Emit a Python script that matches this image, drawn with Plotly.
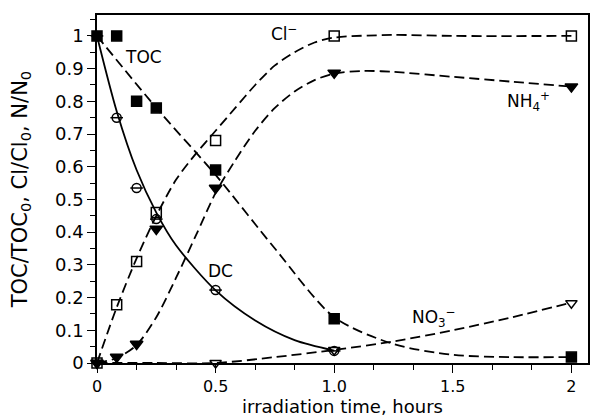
import plotly.graph_objects as go

# measured data (time in hours)
t_meas = [0, 0.083, 0.167, 0.25, 0.5, 1.0, 2.0]
toc = [1.0, 1.0, 0.80, 0.78, 0.59, 0.135, 0.018]
cl = [0.0, 0.178, 0.31, 0.46, 0.68, 1.0, 1.0]
nh4 = [0.0, 0.018, 0.058, 0.41, 0.535, 0.887, 0.845]
t_dc = [0, 0.083, 0.167, 0.25, 0.5, 1.0]
dc = [1.0, 0.75, 0.535, 0.44, 0.223, 0.037]
t_no3 = [0, 0.5, 1.0, 2.0]
no3 = [0.0, 0.0, 0.04, 0.183]

# fitted curves
toc_fx = [0, 0.25, 0.5, 0.75, 1.0, 1.25, 1.5, 1.75, 2.0]
toc_fy = [1.0, 0.78, 0.575, 0.35, 0.14, 0.058, 0.025, 0.018, 0.018]
dc_fx = [0, 0.083, 0.167, 0.25, 0.333, 0.5, 0.667, 0.833, 1.0]
dc_fy = [1.0, 0.77, 0.59, 0.46, 0.36, 0.222, 0.13, 0.07, 0.038]
cl_fx = [0, 0.083, 0.167, 0.25, 0.333, 0.417, 0.5, 0.583, 0.667, 0.75, 0.833, 0.917, 1.0, 1.25, 1.5, 2.0]
cl_fy = [0, 0.17, 0.32, 0.45, 0.56, 0.64, 0.71, 0.78, 0.85, 0.91, 0.95, 0.98, 0.995, 1.003, 1.0, 1.0]
nh4_fx = [0, 0.083, 0.167, 0.25, 0.333, 0.417, 0.5, 0.583, 0.667, 0.75, 0.833, 0.917, 1.0, 1.125, 1.25, 1.5, 1.75, 2.0]
nh4_fy = [0, 0.015, 0.055, 0.14, 0.26, 0.39, 0.52, 0.62, 0.71, 0.78, 0.83, 0.865, 0.885, 0.893, 0.89, 0.875, 0.86, 0.845]
no3_fx = [0, 0.25, 0.5, 0.75, 1.0, 1.25, 1.5, 1.75, 2.0]
no3_fy = [0, 0, 0, 0.018, 0.04, 0.066, 0.1, 0.14, 0.185]

x_tickvals = [0, 0.5, 1.0, 1.5, 2.0]
x_ticktext = ["0", "0.5", "1.0", "1.5", "2"]
y_tickvals = [0, 0.1, 0.2, 0.3, 0.4, 0.5, 0.6, 0.7, 0.8, 0.9, 1.0]
y_ticktext = ["0", "0.1", "0.2", "0.3", "0.4", "0.5", "0.6", "0.7", "0.8", "0.9", "1"]

DASH = "10px,5px"
FONT = "DejaVu Sans, Liberation Sans, Arial, sans-serif"

fig = go.Figure()

def curve(x, y, dash):
    fig.add_trace(go.Scatter(x=x, y=y, mode="lines",
                             line=dict(color="black", width=1.8, dash=dash, shape="spline", smoothing=0.8),
                             hoverinfo="skip", cliponaxis=False))

def pts(x, y, symbol, size=9, lw=1.5):
    fig.add_trace(go.Scatter(x=x, y=y, mode="markers",
                             marker=dict(symbol=symbol, size=size, color="black",
                                         line=dict(color="black", width=lw)),
                             cliponaxis=False))

curve(toc_fx, toc_fy, DASH)
curve(cl_fx, cl_fy, DASH)
curve(nh4_fx, nh4_fy, DASH)
curve(no3_fx, no3_fy, DASH)
curve(dc_fx, dc_fy, "solid")

pts(t_dc, dc, "circle-open", 9)
pts(t_dc, dc, "line-ew", 9)
pts(t_no3, no3, "triangle-down-open", 10)
pts(t_meas, cl, "square-open", 10)
pts(t_meas, toc, "square", 10)
pts(t_meas, nh4, "triangle-down", 11)

labels = [
    (0.197, 0.936, "TOC"),
    (0.79, 1.01, "Cl<sup>−</sup>"),
    (1.82, 0.80, "NH<sub>4</sub><sup>+</sup>"),
    (0.52, 0.28, "DC"),
    (1.42, 0.14, "NO<sub>3</sub><sup>−</sup>"),
]
for x, y, txt in labels:
    fig.add_annotation(x=x, y=y, text=txt, showarrow=False,
                       font=dict(family=FONT, size=17, color="black"))

fig.update_layout(
    width=595, height=417,
    margin=dict(l=97, r=5, t=15, b=54),
    paper_bgcolor="white", plot_bgcolor="white",
    showlegend=False,
    font=dict(family=FONT, size=18, color="black"),
)
fig.update_xaxes(
    range=[0, 2.07], tickvals=x_tickvals, ticktext=x_ticktext,
    tickfont=dict(size=16),
    showline=True, linecolor="black", linewidth=1.6, mirror=True,
    ticks="outside", ticklen=8, tickwidth=1.2, tickcolor="black",
    minor=dict(dtick=1/6, tick0=0, ticks="outside", ticklen=5, tickwidth=1.2, tickcolor="black"),
    showgrid=False, zeroline=False,
    title=dict(text="irradiation time, hours", font=dict(size=18), standoff=3),
)
fig.update_yaxes(
    range=[0, 1.064], tickvals=y_tickvals, ticktext=y_ticktext,
    tickfont=dict(size=18),
    showline=True, linecolor="black", linewidth=1.6, mirror=True,
    ticks="outside", ticklen=8, tickwidth=1.2, tickcolor="black",
    minor=dict(dtick=0.05, tick0=0, ticks="outside", ticklen=5, tickwidth=1.2, tickcolor="black"),
    showgrid=False, zeroline=False,
    title=dict(text="TOC/TOC<sub>0</sub>, Cl/Cl<sub>0</sub>, N/N<sub>0</sub>", font=dict(size=21), standoff=22),
)

fig.write_html("out.html")
